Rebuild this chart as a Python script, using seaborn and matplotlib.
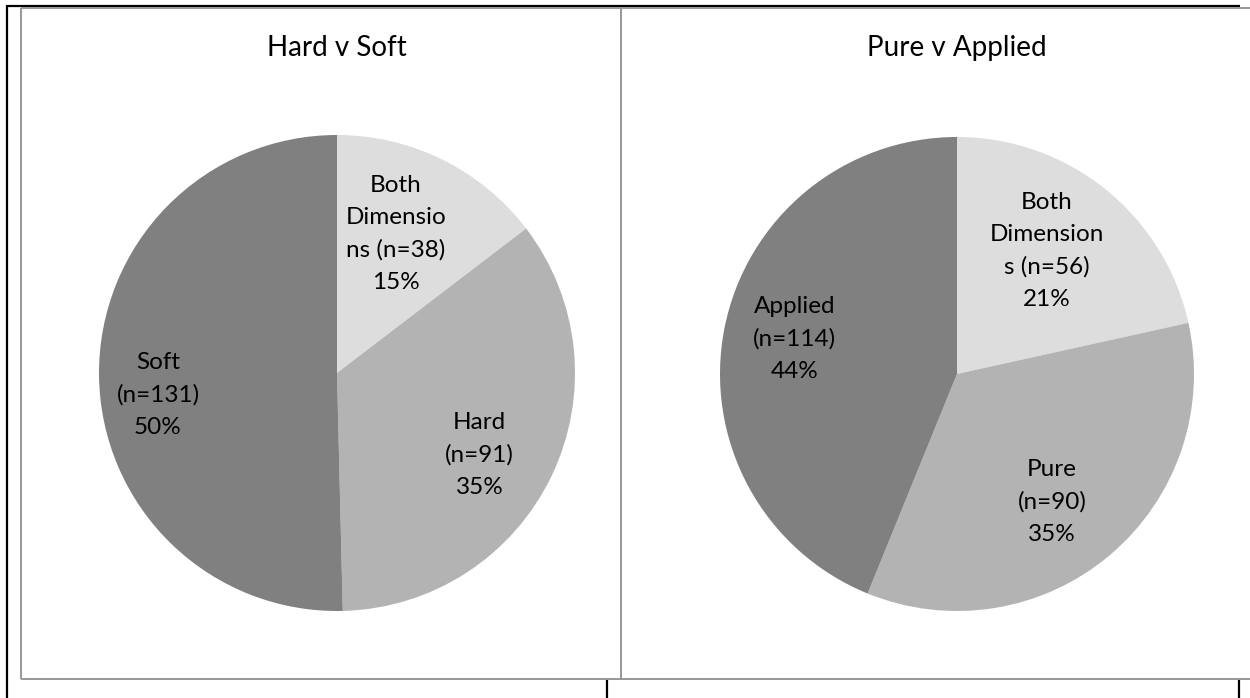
import matplotlib
matplotlib.use("Agg")
import matplotlib.pyplot as plt
from matplotlib.lines import Line2D
import seaborn as sns

sns.set_theme(style="white")
plt.rcParams["font.family"] = ["Lato", "DejaVu Sans"]

# Data
left_title = "Hard v Soft"
left_labels = ["Both\nDimensio\nns (n=38)", "Hard\n(n=91)", "Soft\n(n=131)"]
left_counts = [38, 91, 131]
left_pcts = ["15%", "35%", "50%"]

right_title = "Pure v Applied"
right_labels = ["Both\nDimension\ns (n=56)", "Pure\n(n=90)", "Applied\n(n=114)"]
right_counts = [56, 90, 114]
right_pcts = ["21%", "35%", "44%"]

slice_colors = ["#dddddd", "#b3b3b3", "#808080"]

W, H = 1250, 698
fig = plt.figure(figsize=(W / 100, H / 100), dpi=100)
fig.patch.set_facecolor("white")


def fx(x):
    return x / W


def fy(y):
    return 1 - y / H


def hline(y, x0, x1, color, lw):
    fig.add_artist(Line2D([fx(x0), fx(x1)], [fy(y), fy(y)], color=color, lw=lw,
                          transform=fig.transFigure, solid_capstyle="butt"))


def vline(x, y0, y1, color, lw):
    fig.add_artist(Line2D([fx(x), fx(x)], [fy(y0), fy(y1)], color=color, lw=lw,
                          transform=fig.transFigure, solid_capstyle="butt"))


# table-cell borders
hline(6, 6, 1240, "black", 1.6)
vline(7, 6, 698, "black", 1.6)
vline(607, 680, 698, "black", 1.6)
vline(1239, 680, 698, "black", 1.6)

# chart frames
gray = "#979797"
hline(8, 21, 1250, gray, 1.4)
hline(679, 21, 1250, gray, 1.4)
vline(21, 8, 679, gray, 1.4)
vline(621, 8, 679, gray, 1.4)


def draw_pie(cx, cy, r, title, labels, counts, pcts, label_pos):
    ax = fig.add_axes([fx(cx - r), fy(cy + r), (2 * r) / W, (2 * r) / H])
    ax.pie(counts, colors=slice_colors, startangle=90, counterclock=False,
           radius=1.0, wedgeprops=dict(linewidth=0))
    ax.set_xlim(-1, 1)
    ax.set_ylim(-1, 1)
    ax.set_aspect("equal")
    ax.axis("off")
    for lab, pct, (px, py) in zip(labels, pcts, label_pos):
        ax.text(px, py, f"{lab}\n{pct}", ha="center", va="center",
                fontsize=17.5, color="black", linespacing=1.65)
    fig.text(fx(cx), fy(48), title, ha="center", va="center",
             fontsize=20, color="black")


draw_pie(337, 373, 238, left_title, left_labels, left_counts, left_pcts,
         [(0.248, 0.584), (0.60, -0.345), (-0.752, -0.092)])
draw_pie(957, 374, 237, right_title, right_labels, right_counts, right_pcts,
         [(0.380, 0.519), (0.401, -0.540), (-0.684, 0.148)])

fig.savefig("out.png", dpi=100, facecolor="white")
